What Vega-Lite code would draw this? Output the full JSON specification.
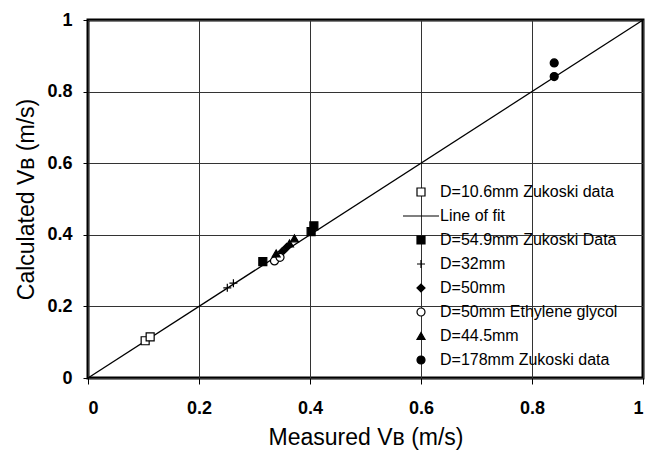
{
  "$schema": "https://vega.github.io/schema/vega-lite/v6.json",
  "width": 555,
  "height": 358,
  "autosize": {"type": "none"},
  "padding": {"left": 88, "top": 20, "right": 10, "bottom": 75},
  "background": "white",
  "config": {
    "font": "Liberation Sans",
    "view": {"stroke": "black", "strokeWidth": 3},
    "axis": {
      "domain": false,
      "grid": true,
      "gridColor": "#333333",
      "gridWidth": 1,
      "tickColor": "black",
      "tickWidth": 1,
      "labelFont": "Liberation Sans",
      "labelFontSize": 18,
      "labelFontWeight": "bold",
      "labelColor": "black",
      "titleFont": "Liberation Sans",
      "titleFontSize": 23,
      "titleFontWeight": "normal",
      "titleColor": "black"
    },
    "legend": {
      "orient": "none",
      "legendX": 325,
      "legendY": 164,
      "padding": 0,
      "rowPadding": 8,
      "labelFont": "Liberation Sans",
      "labelFontSize": 16,
      "labelColor": "black",
      "labelOffset": 11,
      "symbolSize": 64,
      "symbolStrokeWidth": 1.2,
      "labelLimit": 400
    }
  },
  "datasets": {
    "points": [
      {"series": "D=10.6mm Zukoski data", "x": 0.103, "y": 0.104},
      {"series": "D=10.6mm Zukoski data", "x": 0.112, "y": 0.115},
      {"series": "D=54.9mm Zukoski Data", "x": 0.315, "y": 0.325},
      {"series": "D=54.9mm Zukoski Data", "x": 0.402, "y": 0.409},
      {"series": "D=54.9mm Zukoski Data", "x": 0.407, "y": 0.425},
      {"series": "D=32mm", "x": 0.251, "y": 0.252},
      {"series": "D=32mm", "x": 0.262, "y": 0.265},
      {"series": "D=50mm", "x": 0.35, "y": 0.353},
      {"series": "D=50mm", "x": 0.358, "y": 0.365},
      {"series": "D=50mm Ethylene glycol", "x": 0.336, "y": 0.327},
      {"series": "D=50mm Ethylene glycol", "x": 0.346, "y": 0.337},
      {"series": "D=44.5mm", "x": 0.339, "y": 0.348},
      {"series": "D=44.5mm", "x": 0.363, "y": 0.376},
      {"series": "D=44.5mm", "x": 0.372, "y": 0.39},
      {"series": "D=178mm Zukoski data", "x": 0.84, "y": 0.88},
      {"series": "D=178mm Zukoski data", "x": 0.84, "y": 0.842}
    ],
    "fit": [
      {"x": 0, "y": 0},
      {"x": 1, "y": 1}
    ]
  },
  "encoding": {
    "x": {
      "field": "x",
      "type": "quantitative",
      "scale": {"domain": [0, 1], "nice": false},
      "axis": {
        "values": [0, 0.2, 0.4, 0.6, 0.8, 1],
        "format": "~g",
        "tickSize": 6,
        "labelPadding": 15,
        "title": "Measured Vʙ (m/s)",
        "titlePadding": 9
      }
    },
    "y": {
      "field": "y",
      "type": "quantitative",
      "scale": {"domain": [0, 1], "nice": false},
      "axis": {
        "values": [0, 0.2, 0.4, 0.6, 0.8, 1],
        "format": "~g",
        "tickSize": 5,
        "labelPadding": 11,
        "title": "Calculated Vʙ (m/s)",
        "titlePadding": 8
      }
    }
  },
  "layer": [
    {
      "data": {"name": "fit"},
      "mark": {"type": "line", "color": "black", "strokeWidth": 1.3}
    },
    {
      "data": {"name": "points"},
      "mark": {"type": "point", "size": 64, "strokeWidth": 1.2, "opacity": 1},
      "encoding": {
        "shape": {
          "field": "series",
          "type": "nominal",
          "scale": {
            "domain": ["D=10.6mm Zukoski data", "Line of fit", "D=54.9mm Zukoski Data", "D=32mm", "D=50mm", "D=50mm Ethylene glycol", "D=44.5mm", "D=178mm Zukoski data"],
            "range": ["square", "M-4.5,0H4.5", "square", "M-1,0H1M0,-1V1", "diamond", "circle", "triangle-up", "circle"]
          },
          "legend": {"title": null}
        },
        "fill": {
          "field": "series",
          "type": "nominal",
          "scale": {
            "domain": ["D=10.6mm Zukoski data", "Line of fit", "D=54.9mm Zukoski Data", "D=32mm", "D=50mm", "D=50mm Ethylene glycol", "D=44.5mm", "D=178mm Zukoski data"],
            "range": ["white", "transparent", "black", "transparent", "black", "white", "black", "black"]
          },
          "legend": {"title": null}
        },
        "stroke": {
          "field": "series",
          "type": "nominal",
          "scale": {
            "domain": ["D=10.6mm Zukoski data", "Line of fit", "D=54.9mm Zukoski Data", "D=32mm", "D=50mm", "D=50mm Ethylene glycol", "D=44.5mm", "D=178mm Zukoski data"],
            "range": ["black", "black", "black", "black", "black", "black", "black", "black"]
          },
          "legend": {"title": null}
        }
      }
    }
  ]
}
